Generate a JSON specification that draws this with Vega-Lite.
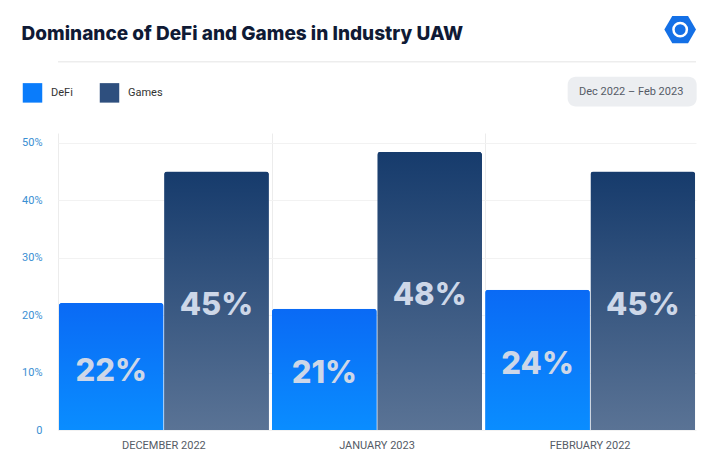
{
  "$schema": "https://vega.github.io/schema/vega-lite/v6.json",
  "autosize": "none",
  "width": 638,
  "height": 297,
  "padding": {"left": 58, "top": 133, "right": 24, "bottom": 46},
  "background": "white",
  "config": {
    "view": {"stroke": null},
    "font": "Roboto"
  },
  "title": {
    "text": "Dominance of DeFi and Games in Industry UAW",
    "anchor": "start",
    "frame": "bounds",
    "font": "Inter",
    "fontSize": 19,
    "fontWeight": 800,
    "color": "#0f1a35",
    "offset": -28
  },
  "data": {
    "values": [
      {"month": "DECEMBER 2022", "series": "DeFi", "value": 22.1},
      {"month": "DECEMBER 2022", "series": "Games", "value": 45},
      {"month": "JANUARY 2023", "series": "DeFi", "value": 21.1},
      {"month": "JANUARY 2023", "series": "Games", "value": 48.4},
      {"month": "FEBRUARY 2022", "series": "DeFi", "value": 24.4},
      {"month": "FEBRUARY 2022", "series": "Games", "value": 45}
    ]
  },
  "layer": [
    {
      "mark": {"type": "bar", "cornerRadiusTopLeft": 3, "cornerRadiusTopRight": 3},
      "encoding": {
        "x": {
          "field": "month",
          "type": "nominal",
          "sort": ["DECEMBER 2022", "JANUARY 2023", "FEBRUARY 2022"],
          "scale": {"paddingInner": 0.015, "paddingOuter": 0.004},
          "axis": {
            "title": null,
            "labelAngle": 0,
            "labelColor": "#555b66",
            "labelFontSize": 11,
            "labelPadding": 9,
            "ticks": false,
            "domain": false,
            "grid": true,
            "gridColor": "#ececec",
            "bandPosition": 0
          }
        },
        "xOffset": {"field": "series", "type": "nominal", "scale": {"paddingInner": 0.006}},
        "y": {
          "field": "value",
          "type": "quantitative",
          "scale": {"domain": [0, 51.7], "nice": false},
          "axis": {
            "title": null,
            "values": [0, 10, 20, 30, 40, 50],
            "labelExpr": "datum.value == 0 ? '0' : datum.value + '%'",
            "labelColor": "#3a8fd3",
            "labelFontSize": 11,
            "labelPadding": 16,
            "ticks": false,
            "domain": false,
            "gridColor": "#f2f2f2"
          }
        },
        "color": {
          "field": "series",
          "type": "nominal",
          "scale": {"domain": ["DeFi", "Games"], "range": ["#0a7cfb", "#2e4f7e"]},
          "legend": {
            "title": null,
            "orient": "none",
            "direction": "horizontal",
            "legendX": -36,
            "legendY": -51,
            "symbolType": "square",
            "symbolSize": 380,
            "symbolOpacity": 1,
            "labelFontSize": 11,
            "labelColor": "#333333",
            "labelOffset": 8,
            "columnPadding": 26
          }
        }
      }
    },
    {
      "transform": [{"filter": "datum.series == 'DeFi'"}],
      "mark": {
        "type": "bar",
        "cornerRadiusTopLeft": 3,
        "cornerRadiusTopRight": 3,
        "color": {
          "gradient": "linear",
          "x1": 0, "y1": 0, "x2": 0, "y2": 1,
          "stops": [
            {"offset": 0, "color": "#0a6af5"},
            {"offset": 1, "color": "#0a8dff"}
          ]
        }
      },
      "encoding": {
        "x": {"field": "month", "type": "nominal", "sort": ["DECEMBER 2022", "JANUARY 2023", "FEBRUARY 2022"]},
        "xOffset": {"field": "series", "type": "nominal"},
        "y": {"field": "value", "type": "quantitative"}
      }
    },
    {
      "transform": [{"filter": "datum.series == 'Games'"}],
      "mark": {
        "type": "bar",
        "cornerRadiusTopLeft": 3,
        "cornerRadiusTopRight": 3,
        "color": {
          "gradient": "linear",
          "x1": 0, "y1": 0, "x2": 0, "y2": 1,
          "stops": [
            {"offset": 0, "color": "#163b6c"},
            {"offset": 1, "color": "#5a7395"}
          ]
        }
      },
      "encoding": {
        "x": {"field": "month", "type": "nominal", "sort": ["DECEMBER 2022", "JANUARY 2023", "FEBRUARY 2022"]},
        "xOffset": {"field": "series", "type": "nominal"},
        "y": {"field": "value", "type": "quantitative"}
      }
    },
    {
      "transform": [
        {"calculate": "datum.value / 2", "as": "mid"},
        {"calculate": "format(datum.value, '.0f') + '%'", "as": "label"}
      ],
      "mark": {
        "type": "text",
        "font": "Inter",
        "fontSize": 31,
        "fontWeight": 800,
        "color": "#cdd7e8",
        "baseline": "middle",
        "dy": 5
      },
      "encoding": {
        "x": {"field": "month", "type": "nominal", "sort": ["DECEMBER 2022", "JANUARY 2023", "FEBRUARY 2022"]},
        "xOffset": {"field": "series", "type": "nominal"},
        "y": {"field": "mid", "type": "quantitative"},
        "text": {"field": "label"}
      }
    },
    {
      "data": {"values": [{"line": 64.1}]},
      "mark": {"type": "rule", "color": "#ededed", "strokeWidth": 1.5},
      "encoding": {
        "y": {"field": "line", "type": "quantitative"}
      }
    },
    {
      "data": {"values": [{"month": "FEBRUARY 2022", "top": 61.5, "bottom": 56.3}]},
      "mark": {"type": "bar", "color": "#eceef1", "cornerRadius": 8, "width": 129, "xOffset": 42},
      "encoding": {
        "x": {"field": "month", "type": "nominal", "sort": ["DECEMBER 2022", "JANUARY 2023", "FEBRUARY 2022"]},
        "y": {"field": "top", "type": "quantitative"},
        "y2": {"field": "bottom"}
      }
    },
    {
      "data": {"values": [{"month": "FEBRUARY 2022", "label": "Dec 2022 – Feb 2023", "pos": 58.9}]},
      "mark": {"type": "text", "fontSize": 11, "color": "#555b66", "baseline": "middle", "dx": 41},
      "encoding": {
        "x": {"field": "month", "type": "nominal", "sort": ["DECEMBER 2022", "JANUARY 2023", "FEBRUARY 2022"]},
        "y": {"field": "pos", "type": "quantitative"},
        "text": {"field": "label"}
      }
    },
    {
      "data": {"values": [{"month": "FEBRUARY 2022", "pos": 69.7}]},
      "mark": {
        "type": "point",
        "filled": true,
        "opacity": 1,
        "color": "#1470e6",
        "size": 1000,
        "xOffset": 90,
        "shape": "M-1,0L-0.5,-0.866L0.5,-0.866L1,0L0.5,0.866L-0.5,0.866Z"
      },
      "encoding": {
        "x": {"field": "month", "type": "nominal", "sort": ["DECEMBER 2022", "JANUARY 2023", "FEBRUARY 2022"]},
        "y": {"field": "pos", "type": "quantitative"}
      }
    },
    {
      "data": {"values": [{"month": "FEBRUARY 2022", "pos": 69.7}]},
      "mark": {
        "type": "point",
        "filled": false,
        "opacity": 1,
        "color": "white",
        "strokeWidth": 2.5,
        "size": 180,
        "xOffset": 90,
        "shape": "circle"
      },
      "encoding": {
        "x": {"field": "month", "type": "nominal", "sort": ["DECEMBER 2022", "JANUARY 2023", "FEBRUARY 2022"]},
        "y": {"field": "pos", "type": "quantitative"}
      }
    }
  ]
}
